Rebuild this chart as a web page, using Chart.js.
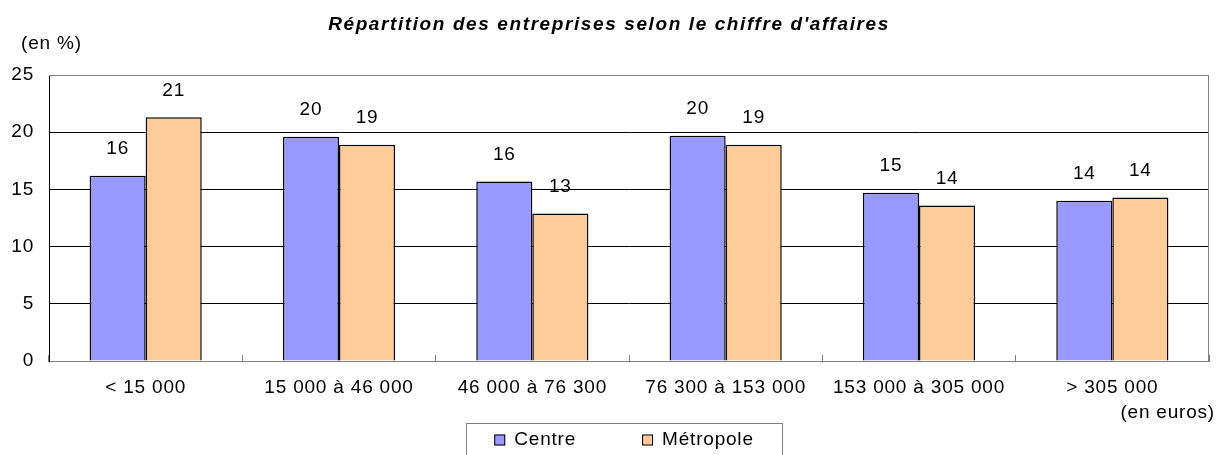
<!DOCTYPE html>
<html>
<head>
<meta charset="utf-8">
<script src="https://cdn.jsdelivr.net/npm/chart.js@4.4.1/dist/chart.umd.min.js"></script>
<style>
html, body { margin: 0; padding: 0; background: #fff; overflow: hidden; }
#wrap { width: 1218px; height: 455px; position: relative; }
</style>
</head>
<body>
<div id="wrap"><canvas id="chart" width="1218" height="455"></canvas></div>
<script>
// ---- data ---- //
const categories = ["< 15 000", "15 000 à 46 000", "46 000 à 76 300", "76 300 à 153 000", "153 000 à 305 000", "> 305 000"];
const centre = [16.2, 19.6, 15.7, 19.7, 14.7, 14.0];
const metropole = [21.3, 18.9, 12.9, 18.9, 13.6, 14.3];
const seriesNames = ["Centre", "Métropole"];
const seriesColors = ["#9999ff", "#ffcc99"];
const yMax = 25;
const yStep = 5;
const titleText = "Répartition des entreprises selon le chiffre d'affaires";

const FONT = "'Liberation Sans', Arial, sans-serif";
const SPACING = "0.8px"; // the original text is drawn a bit wide

// ---- extra drawing: title, plot frame, value labels, units, legend ---- //
const extras = {
    id: "extras",
    beforeDraw(chart) {
        chart.ctx.letterSpacing = SPACING;
    },
    beforeDatasetsDraw(chart) {
        const { ctx, chartArea: a } = chart;
        ctx.save();
        ctx.strokeStyle = "#808080";
        ctx.lineWidth = 1;
        ctx.beginPath();
        ctx.moveTo(a.left, a.top + 0.5);
        ctx.lineTo(a.right - 0.5, a.top + 0.5);
        ctx.lineTo(a.right - 0.5, a.bottom);
        ctx.stroke();
        ctx.restore();
    },
    afterDatasetsDraw(chart) {
        const { ctx } = chart;
        ctx.save();
        ctx.letterSpacing = SPACING;
        ctx.font = "19px " + FONT;
        ctx.fillStyle = "#000";
        ctx.textAlign = "center";
        ctx.textBaseline = "middle";
        chart.data.datasets.forEach((ds, i) => {
            chart.getDatasetMeta(i).data.forEach((bar, j) => {
                ctx.fillText(String(Math.round(ds.data[j])), bar.x, bar.y - 27);
            });
        });
        ctx.restore();
    },
    afterDraw(chart) {
        const { ctx } = chart;
        ctx.save();
        ctx.fillStyle = "#000";
        ctx.textBaseline = "middle";

        ctx.letterSpacing = "1.6px";
        ctx.font = "italic bold 19px " + FONT;
        ctx.textAlign = "center";
        ctx.fillText(titleText, chart.width / 2, 25);

        ctx.letterSpacing = SPACING;
        ctx.font = "19px " + FONT;
        ctx.textAlign = "left";
        ctx.fillText("(en %)", 21, 44);
        ctx.textAlign = "right";
        ctx.fillText("(en euros)", 1215, 413);

        // legend box
        const boxLeft = 466, boxTop = 423, boxW = 316;
        ctx.strokeStyle = "#808080";
        ctx.lineWidth = 1;
        ctx.strokeRect(boxLeft + 0.5, boxTop + 0.5, boxW, 60);
        const sq = 11, gap = 9, spacing = 66;
        const widths = chart.data.datasets.map(ds => sq + gap + ctx.measureText(ds.label).width);
        const total = widths.reduce((s, w) => s + w, 0) + spacing * (widths.length - 1);
        let x = boxLeft + (boxW - total) / 2;
        const cy = 440;
        ctx.textAlign = "left";
        chart.data.datasets.forEach((ds, i) => {
            ctx.fillStyle = ds.backgroundColor;
            ctx.fillRect(x, cy - sq / 2, sq, sq);
            ctx.strokeStyle = "#000";
            ctx.strokeRect(x + 0.5, cy - sq / 2 + 0.5, sq - 1, sq - 1);
            ctx.fillStyle = "#000";
            ctx.fillText(ds.label, x + sq + gap, cy);
            x += widths[i] + spacing;
        });
        ctx.restore();
    }
};

const ctx = document.getElementById("chart");
const chart = new Chart(ctx, {
    type: "bar",
    data: {
        labels: categories,
        datasets: [
            { label: seriesNames[0], data: centre, backgroundColor: seriesColors[0], borderColor: "#000", borderWidth: 1.5 },
            { label: seriesNames[1], data: metropole, backgroundColor: seriesColors[1], borderColor: "#000", borderWidth: 1.5 }
        ]
    },
    options: {
        responsive: false,
        animation: false,
        devicePixelRatio: 1,
        layout: { padding: { left: 0, right: 9, top: 75, bottom: 0 } },
        datasets: { bar: { barPercentage: 1, categoryPercentage: 0.58 } },
        plugins: {
            legend: { display: false },
            tooltip: { enabled: false },
            title: { display: false }
        },
        scales: {
            x: {
                grid: { display: true, offset: true, drawOnChartArea: false, drawTicks: true, tickLength: -6, color: "#808080" },
                border: { color: "#808080", width: 1 },
                ticks: { color: "#000", font: { family: FONT, size: 19 }, padding: 21, maxRotation: 0, autoSkip: false },
                afterFit(scale) { scale.height = 94; }
            },
            y: {
                min: 0,
                max: yMax,
                grid: {
                    drawTicks: false,
                    color: c => (c.tick.value === yMax ? "#808080" : "#000")
                },
                border: { color: "#000", width: 1 },
                ticks: { stepSize: yStep, color: "#000", font: { family: FONT, size: 19 }, padding: 15 },
                afterFit(scale) { scale.width = 49; }
            }
        }
    },
    plugins: [extras]
});
</script>
</body>
</html>
